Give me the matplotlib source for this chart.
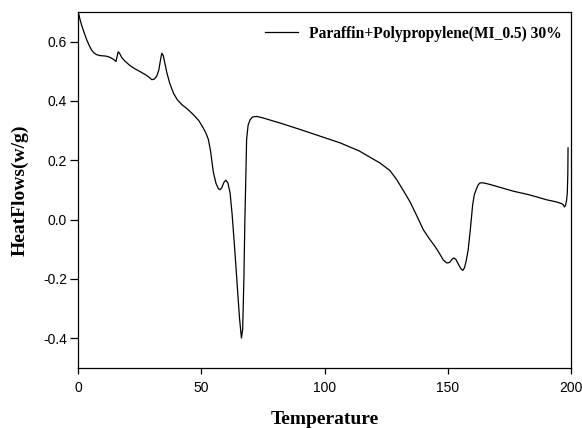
import matplotlib
matplotlib.use("Agg")
import matplotlib.pyplot as plt

# DSC trace
temperature = [0.0, 0.4, 0.8, 1.5, 2.5, 3.5, 4.5, 5.5, 6.5, 7.6, 9.0, 10.5, 11.6, 13.0,
               14.5, 15.4, 15.8, 16.3, 16.9, 17.8, 19.1, 21.0, 23.0, 25.2, 27.5, 29.0,
               29.9, 30.8, 31.9, 32.8, 33.5, 34.0, 34.6, 35.3, 36.0, 37.2, 38.7, 40.3,
               42.1, 44.5, 46.8, 49.0, 50.8, 52.0, 52.9, 53.8, 54.9, 56.0, 57.0, 57.6,
               58.3, 59.2, 60.0, 60.8, 61.7, 62.5, 63.5, 64.5, 65.5, 66.3, 66.8, 67.3,
               67.7, 68.1, 68.4, 69.0, 69.8, 70.8, 72.5, 75.0, 81.9, 90.1, 98.0, 106.3,
               114.0, 122.5, 126.5, 129.3, 132.0, 134.7, 137.5, 140.1, 142.5, 144.8,
               146.5, 148.2, 149.6, 150.8, 151.8, 152.5, 153.3, 154.3, 155.3, 156.1,
               156.8, 157.5, 158.3, 159.2, 160.1, 160.8, 161.7, 162.4, 163.1, 164.5,
               167.0, 176.6, 183.0, 190.1, 194.0, 196.2, 196.9, 197.3, 197.8, 198.2,
               198.5, 198.7, 198.8]
heat_flow = [0.700, 0.690, 0.675, 0.655, 0.630, 0.607, 0.588, 0.572, 0.562, 0.556,
             0.553, 0.552, 0.551, 0.547, 0.540, 0.533, 0.548, 0.566, 0.560, 0.546,
             0.534, 0.520, 0.509, 0.499, 0.488, 0.479, 0.472, 0.473, 0.483, 0.505,
             0.540, 0.561, 0.553, 0.525, 0.497, 0.460, 0.427, 0.404, 0.388, 0.372,
             0.354, 0.334, 0.309, 0.290, 0.270, 0.230, 0.160, 0.122, 0.104, 0.101,
             0.107, 0.126, 0.133, 0.124, 0.090, 0.020, -0.090, -0.210, -0.330, -0.399,
             -0.370, -0.200, 0.000, 0.150, 0.270, 0.318, 0.337, 0.346, 0.348, 0.343,
             0.326, 0.304, 0.282, 0.259, 0.232, 0.191, 0.166, 0.135, 0.098, 0.060,
             0.012, -0.034, -0.064, -0.090, -0.112, -0.136, -0.146, -0.144, -0.133,
             -0.129, -0.134, -0.150, -0.165, -0.171, -0.162, -0.138, -0.101, -0.030,
             0.050, 0.085, 0.105, 0.118, 0.124, 0.124, 0.119, 0.096, 0.084, 0.067,
             0.060, 0.054, 0.050, 0.043, 0.048, 0.065, 0.090, 0.150, 0.242]

series_label = "Paraffin+Polypropylene(MI_0.5) 30%"

fig = plt.figure(figsize=(5.82, 4.28), dpi=100)
ax = fig.add_axes([78 / 582, 1 - 368 / 428, 493 / 582, 356 / 428])

ax.plot(temperature, heat_flow, color="black", lw=0.9, label=series_label)

ax.set_xlim(0, 200)
ax.set_ylim(-0.5, 0.7)
ax.set_xticks([0, 50, 100, 150, 200])
ax.set_yticks([-0.4, -0.2, 0.0, 0.2, 0.4, 0.6])
ax.set_yticklabels(["-0.4", "-0.2", "0.0", "0.2", "0.4", "0.6"])
ax.tick_params(direction="out", width=0.9, labelsize=10, top=False, right=False)
ax.tick_params(axis="x", length=4.5, pad=5)
ax.tick_params(axis="y", length=6, pad=2)
for lab in ax.get_xticklabels() + ax.get_yticklabels():
    lab.set_family("Liberation Sans")
for s in ax.spines.values():
    s.set_linewidth(0.9)

ax.set_xlabel("Temperature", family="Liberation Serif", fontweight="bold",
              fontsize=14)
ax.xaxis.set_label_coords(0.5, -0.12)
ax.set_ylabel("HeatFlows(w/g)", family="Liberation Serif", fontweight="bold",
              fontsize=14)
ax.yaxis.set_label_coords(-49 / 493, 0.5)

leg = ax.legend(loc="upper right", frameon=False, handlelength=2.1,
                handletextpad=0.7,
                prop={"family": "Liberation Serif", "weight": "bold", "size": 11.2},
                borderaxespad=0.4, bbox_to_anchor=(1.006, 0.997))

fig.savefig("out.png", dpi=100)
